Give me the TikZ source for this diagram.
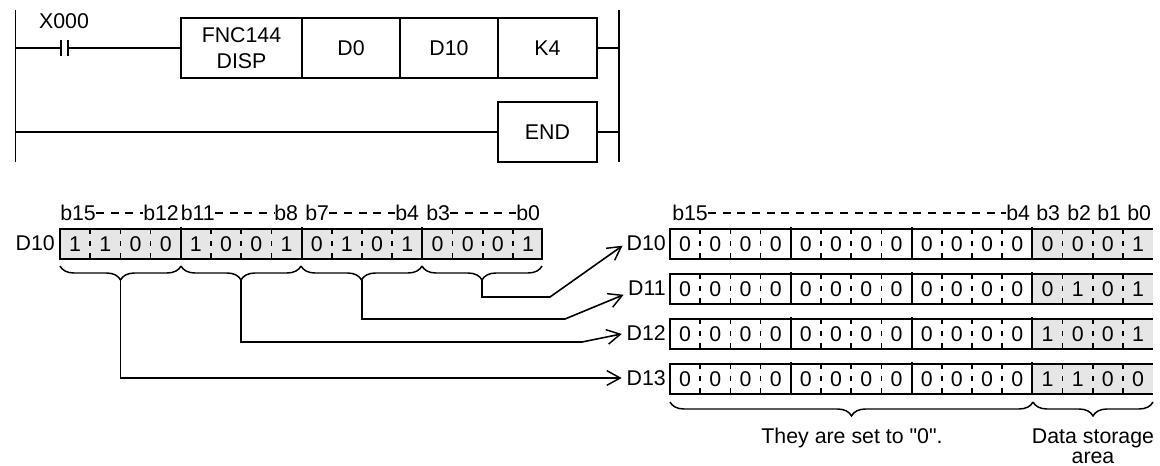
\documentclass[tikz,border=0pt]{standalone}
\usepackage{fontspec}
\setmainfont[Ligatures=TeXOff]{Liberation Sans}
\usetikzlibrary{positioning,arrows.meta,decorations.pathreplacing}
\tikzset{
  wire/.style={line width=1.4pt},
  instbox/.style={draw,line width=1.4pt,minimum height=45pt,inner sep=0pt,outer sep=0pt,align=center},
  bitbrace/.style={line width=1.1pt,decorate,decoration={brace,mirror,amplitude=10.5pt}},
  feed/.style={line width=1.2pt,shorten >=3.5pt,-{Straight Barb[length=10pt,width=11pt,line width=1.1pt]}},
  bitdiv/.style={line width=1.1pt,dash pattern=on 4pt off 5pt},
  hdrdash/.style={line width=1pt,dash pattern=on 6pt off 5pt},
  bitlabel/.style={inner sep=0pt},
  reglabel/.style={inner sep=0pt,anchor=east},
}
\definecolor{areagray}{HTML}{E6E6E6}
% one register: name, left x, top y, bits
\newcommand{\bitcells}[4]{
  \foreach \bit [count=\n from 0] in {#4}
    \node[bitlabel] (#1-\n) at ({#2+30.2*\n+15.1},{#3+15}) {\bit};
  \foreach \n in {1,2,3,5,6,7,9,10,11,13,14,15}
    \draw[bitdiv] ({#2+30.2*\n},#3) -- ({#2+30.2*\n},{#3+29});
  \foreach \n in {4,8,12}
    \draw[wire] ({#2+30.2*\n},{#3-2}) -- ({#2+30.2*\n},{#3+30});
}
\begin{document}
\begin{tikzpicture}[x=0.75pt,y=-0.75pt,font=\fontsize{16pt}{19pt}\selectfont]
  \useasboundingbox (0,0) rectangle (1160,466);
  % ladder
  \draw[wire] (15.5,10) -- (15.5,162);
  \draw[wire] (619,10) -- (619,162);
  \node[instbox,minimum width=90.75pt] (fnc) at (241.5,48) {FNC144\\DISP};
  \node[instbox,minimum width=73.5pt,right=0pt of fnc] (srcreg) {D0};
  \node[instbox,minimum width=73.5pt,right=0pt of srcreg] (dstreg) {D10};
  \node[instbox,minimum width=74.25pt,right=0pt of dstreg] (count) {K4};
  \node[instbox,minimum width=74.25pt] (endbox) at (547.5,132) {END};
  \node[inner sep=0pt] (xlabel) at (64,21) {X000};
  \coordinate (contactl) at (61,48);
  \coordinate (contactr) at (68,48);
  \coordinate (railla) at (15.5,48);
  \coordinate (railra) at (619,48);
  \coordinate (raillb) at (15.5,132);
  \coordinate (railrb) at (619,132);
  \draw[wire] (railla) -- (contactl);
  \draw[wire] (contactr) -- (fnc);
  \draw[wire] (contactl) ++(0,-8) -- ++(0,16);
  \draw[wire] (contactr) ++(0,-8) -- ++(0,16);
  \draw[wire] (count) -- (railra);
  \draw[wire] (raillb) -- (endbox);
  \draw[wire] (endbox) -- (railrb);

  % source register
  \fill[areagray] (60,229) rectangle (542,259);
  \draw[wire] (60,229) rectangle (542,259);
  \bitcells{src}{60}{229}{1,1,0,0,1,0,0,1,0,1,0,1,0,0,0,1}
  \node[reglabel] (srcname) at (55,243) {D10};
  \node[inner sep=0pt,anchor=west] (b15a) at (60,213) {b15};
  \node[inner sep=0pt,anchor=west] (b12a) at (143,213) {b12};
  \node[inner sep=0pt,anchor=west] (b11a) at (180.5,213) {b11};
  \node[inner sep=0pt,anchor=west] (b8a) at (274,213) {b8};
  \node[inner sep=0pt,anchor=west] (b7a) at (305,213) {b7};
  \node[inner sep=0pt,anchor=west] (b4a) at (395,213) {b4};
  \node[inner sep=0pt,anchor=west] (b3a) at (426,213) {b3};
  \node[inner sep=0pt,anchor=west] (b0a) at (516,213) {b0};
  \draw[hdrdash] (b15a) -- (b12a);
  \draw[hdrdash] (b11a) -- (b8a);
  \draw[hdrdash] (b7a) -- (b4a);
  \draw[hdrdash] (b3a) -- (b0a);

  % braces under the source register
  \draw[bitbrace] (60,266) -- (181,266);
  \draw[bitbrace] (181,266) -- (301,266);
  \draw[bitbrace] (301,266) -- (422,266);
  \draw[bitbrace] (422,266) -- (542,266);
  \coordinate (tipa) at (120.5,280);
  \coordinate (tipb) at (241,280);
  \coordinate (tipc) at (362,280);
  \coordinate (tipd) at (482,280);

  % destination registers
  \foreach \top/\ba/\bb/\bc/\bd/\regname in {
    229/0/0/0/1/D10,
    274/0/1/0/1/D11,
    319/1/0/0/1/D12,
    364/1/1/0/0/D13}{
    \fill[areagray] (1033,\top) rectangle (1153,\top+30);
    \draw[wire] (1153,\top) -- (670,\top) -- (670,\top+30) -- (1153,\top+30);
    \bitcells{\regname}{670}{\top}{0,0,0,0,0,0,0,0,0,0,0,0,\ba,\bb,\bc,\bd}
    \node[reglabel] (\regname) at (666,\top+14) {\regname};
  }
  \node[inner sep=0pt,anchor=west] (b15b) at (672,213) {b15};
  \node[inner sep=0pt,anchor=west] (b4b) at (1006,213) {b4};
  \node[inner sep=0pt,anchor=west] (b3b) at (1036,213) {b3};
  \node[inner sep=0pt,anchor=west] (b2b) at (1067,213) {b2};
  \node[inner sep=0pt,anchor=west] (b1b) at (1097,213) {b1};
  \node[inner sep=0pt,anchor=west] (b0b) at (1127,213) {b0};
  \draw[hdrdash] (b15b) -- (b4b);

  % feed lines
  \draw[feed] (tipd) |- (550,297) -- (D10.west);
  \draw[feed] (tipc) |- (565,319) -- ([yshift=-3.75pt]D11.west);
  \draw[feed] (tipb) |- (582,342) -- (D12.west);
  \draw[feed] (tipa) |- (D13.west);

  % braces under the last register
  \draw[bitbrace] (670,402) -- (1033,402);
  \draw[bitbrace] (1033,402) -- (1153,402);
  \node[inner sep=0pt] (zerotext) at (852,438) {They are set to "0".};
  \node[inner sep=0pt,align=center] (areatext) at (1093,446) {Data storage\\[-4pt]area};
\end{tikzpicture}
\end{document}
